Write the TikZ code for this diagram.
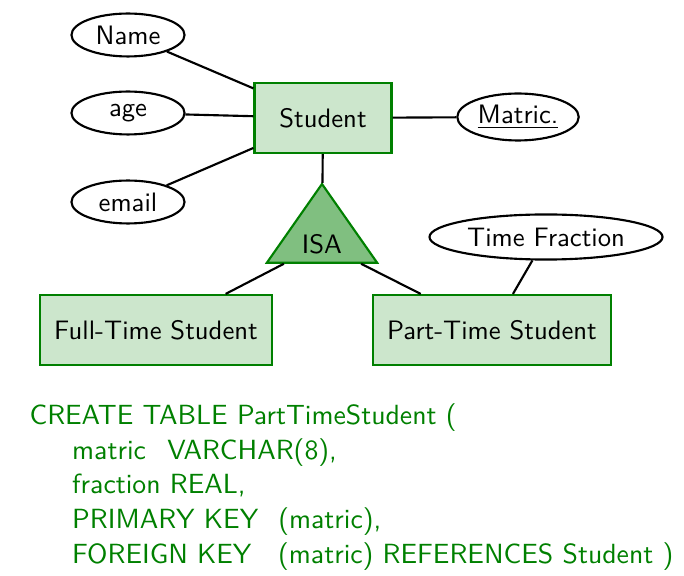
\documentclass[tikz,border=0pt]{standalone}
\usepackage{tikz}
\usetikzlibrary{shapes}
\usetikzlibrary{shapes.geometric}
\definecolor{erdgreen}{HTML}{008000}

\tikzset{
  entity/.style={draw=erdgreen, fill=erdgreen!20, line width=0.8pt, minimum height=26.25pt, inner sep=2pt},
  attrib/.style={ellipse, draw, line width=0.8pt, inner sep=1pt},
  isarel/.style={isosceles triangle, shape border rotate=90, isosceles triangle apex angle=70,
                 draw=erdgreen, fill=erdgreen!50, line width=0.8pt},
  link/.style={line width=0.8pt}
}

\begin{document}
\begin{tikzpicture}[x=0.375pt, y=-0.375pt, font=\sffamily]

        \useasboundingbox (0,0) rectangle (684,576);

        % Entities
        \node[entity, minimum width=51.4pt] (student) at (323,118) {Student};
        \node[entity, minimum width=87pt] (fulltime) at (156,330) {Full-Time Student};
        \node[entity, minimum width=89.25pt] (parttime) at (492,330) {Part-Time Student};

        % Attributes
        \node[attrib, minimum width=42.4pt, minimum height=16.1pt] (name) at (128,35) {Name};
        \node[attrib, minimum width=42.4pt, minimum height=16.1pt] (age) at (128,113) {age};
        \node[attrib, minimum width=42.4pt, minimum height=16.1pt] (email) at (128,202) {email};
        \node[attrib, minimum width=44.6pt, minimum height=17.6pt] (matric) at (518,117) {\underline{Matric.}};
        \node[attrib, minimum width=87.4pt, minimum height=16.9pt] (fraction) at (546,237) {Time Fraction};

        % ISA
        \node[isarel] (isa) at (322,244) {ISA};

        % Links
        \draw[link] (name) -- (student);
        \draw[link] (age) -- (student);
        \draw[link] (email) -- (student);
        \draw[link] (matric) -- (student);
        \draw[link] (student) -- (isa);
        \draw[link] (isa) -- (fulltime);
        \draw[link] (isa) -- (parttime);
        \draw[link] (fraction) -- (parttime);

        % SQL
        \node[anchor=north west, align=left, text=erdgreen, inner sep=0pt,
              font=\sffamily\fontsize{10.4}{13}\selectfont] (sql) at (29,403)
        {CREATE TABLE PartTimeStudent (\\
         \hspace{16pt}matric\hspace{8pt}VARCHAR(8),\\
         \hspace{16pt}fraction REAL,\\
         \hspace{16pt}PRIMARY KEY\hspace{7.5pt}(matric),\\
         \hspace{16pt}FOREIGN KEY\hspace{10pt}(matric) REFERENCES Student )};

\end{tikzpicture}
\end{document}
